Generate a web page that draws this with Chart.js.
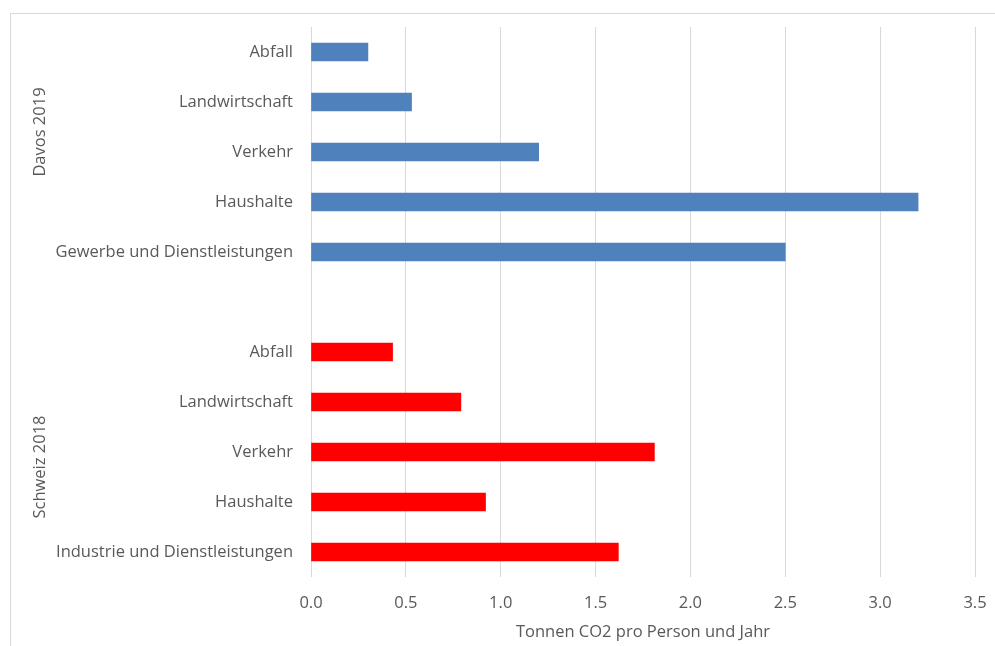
<!DOCTYPE html>
<html>
<head>
<meta charset="utf-8">
<script src="https://cdn.jsdelivr.net/npm/chart.js@4/dist/chart.umd.min.js"></script>
<style>
  html, body { margin: 0; padding: 0; background: #ffffff; }
  #wrap { position: relative; width: 995px; height: 646px; }
  #frame { position: absolute; left: 10px; top: 13px; right: -5px; bottom: -5px; border-top: 1px solid #d9d9d9; border-left: 1px solid #d9d9d9; }
  canvas { position: absolute; left: 0; top: 0; }
</style>
</head>
<body>
<div id="wrap">
  <div id="frame"></div>
  <canvas id="c" width="995" height="646"></canvas>
</div>
<script>
// Categories, top to bottom
const categories = [
  "Abfall", "Landwirtschaft", "Verkehr", "Haushalte", "Gewerbe und Dienstleistungen",
  "",
  "Abfall", "Landwirtschaft", "Verkehr", "Haushalte", "Industrie und Dienstleistungen"
];
const groupNames = ["Davos 2019", "Schweiz 2018"];
const davos2019 = [0.30, 0.53, 1.20, 3.20, 2.50];
const schweiz2018 = [0.43, 0.79, 1.81, 0.92, 1.62];
const xTicks = [0.0, 0.5, 1.0, 1.5, 2.0, 2.5, 3.0, 3.5];
const xTitle = "Tonnen CO2 pro Person und Jahr";

const davosData = davos2019.concat(new Array(categories.length - davos2019.length).fill(null));
const schweizData = new Array(categories.length - schweiz2018.length).fill(null).concat(schweiz2018);

const FONT = "'Open Sans', sans-serif";
const TXT = "#595959";
const FS = 16.5;

const groupLabels = {
  id: 'groupLabels',
  afterDraw(chart) {
    const ctx = chart.ctx;
    const y = chart.scales.y;
    const pos = [y.getPixelForValue(1.6), y.getPixelForValue(8.3)];
    ctx.save();
    ctx.fillStyle = TXT;
    ctx.font = FS + "px " + FONT;
    ctx.textAlign = 'center';
    ctx.textBaseline = 'middle';
    groupNames.forEach((g, i) => {
      ctx.save();
      ctx.translate(40, pos[i]);
      ctx.rotate(-Math.PI / 2);
      ctx.fillText(g, 0, 0);
      ctx.restore();
    });
    ctx.restore();
  }
};

new Chart(document.getElementById('c'), {
  type: 'bar',
  data: {
    labels: categories,
    datasets: [
      { label: groupNames[0], data: davosData, backgroundColor: '#4f81bd', barThickness: 18, grouped: false },
      { label: groupNames[1], data: schweizData, backgroundColor: '#ff0000', barThickness: 18, grouped: false }
    ]
  },
  options: {
    indexAxis: 'y',
    responsive: false,
    animation: false,
    layout: { padding: { top: 27, right: 20, bottom: 0, left: 0 } },
    plugins: { legend: { display: false }, tooltip: { enabled: false } },
    scales: {
      x: {
        min: 0, max: 3.5,
        afterBuildTicks(scale) { scale.ticks = xTicks.map(v => ({ value: v })); },
        afterFit(scale) { scale.height = 69; scale.paddingRight = 0; scale.paddingLeft = 0; },
        grid: { color: '#d9d9d9', drawTicks: false, lineWidth: 1 },
        border: { display: false },
        ticks: { color: TXT, font: { family: FONT, size: FS }, padding: 16, callback: v => Number(v).toFixed(1) },
        title: { display: true, text: xTitle, color: TXT, font: { family: FONT, size: FS }, padding: { top: 2, bottom: 4 } }
      },
      y: {
        afterFit(scale) { scale.width = 311; scale.paddingTop = 0; scale.paddingBottom = 0; },
        grid: { display: false, drawTicks: false },
        border: { display: false },
        ticks: { color: TXT, font: { family: FONT, size: FS }, padding: 18, autoSkip: false }
      }
    }
  },
  plugins: [groupLabels]
});
</script>
</body>
</html>
